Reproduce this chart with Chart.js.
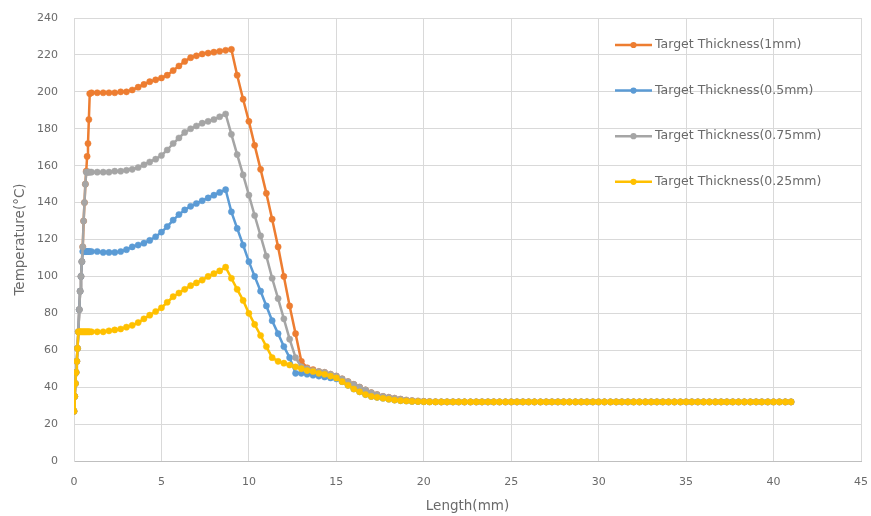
<!DOCTYPE html>
<html>
<head>
<meta charset="utf-8">
<script src="https://cdn.jsdelivr.net/npm/chart.js@4/dist/chart.umd.min.js"></script>
<style>
  html, body { margin: 0; padding: 0; background: #ffffff; }
  #wrap { width: 871px; height: 516px; }
</style>
</head>
<body>
<div id="wrap"><canvas id="chart" width="871" height="516"></canvas></div>
<script>
// Position along the target (mm)
const lengthMM = [
  0, 0.04, 0.08, 0.12, 0.16, 0.2, 0.25, 0.3, 0.35, 0.4, 0.45, 0.5, 0.55, 0.6, 0.65, 0.7, 0.75, 0.8, 0.85, 0.9,
  1, 1.33, 1.67, 2, 2.33, 2.67, 3, 3.33, 3.67, 4, 4.33, 4.67, 5, 5.33, 5.67,
  6, 6.33, 6.67, 7, 7.33, 7.67, 8, 8.33, 8.67, 9, 9.33, 9.67, 10, 10.33, 10.67,
  11, 11.33, 11.67, 12, 12.33, 12.67, 13, 13.33, 13.67, 14, 14.33, 14.67, 15, 15.33, 15.67,
  16, 16.33, 16.67, 17, 17.33, 17.67, 18, 18.33, 18.67, 19, 19.33, 19.67, 20, 20.33, 20.67,
  21, 21.33, 21.67, 22, 22.33, 22.67, 23, 23.33, 23.67, 24, 24.33, 24.67, 25, 25.33, 25.67,
  26, 26.33, 26.67, 27, 27.33, 27.67, 28, 28.33, 28.67, 29, 29.33, 29.67, 30, 30.33, 30.67,
  31, 31.33, 31.67, 32, 32.33, 32.67, 33, 33.33, 33.67, 34, 34.33, 34.67, 35, 35.33, 35.67,
  36, 36.33, 36.67, 37, 37.33, 37.67, 38, 38.33, 38.67, 39, 39.33, 39.67, 40, 40.33, 40.67,
  41
];

// Temperature (°C) for each target thickness
const temp1mm = [
  27, 35, 42, 48, 54, 61, 70, 82, 92, 100, 108, 116, 130, 140, 150, 157, 165, 172, 185, 199,
  199.5, 199.5, 199.5, 199.5, 199.5, 200, 200, 201, 202.5, 204, 205.5, 206.5, 207.5, 209, 211.5,
  214, 216.5, 218.5, 219.5, 220.5, 221, 221.5, 222, 222.5, 223, 209, 196, 184, 171, 158,
  145, 131, 116, 100, 84, 69, 54, 50.5, 49.5, 48.5, 48, 47, 46, 44.5, 43,
  41.5, 40, 38.5, 37, 36, 35, 34.5, 34, 33.5, 33, 32.7, 32.5, 32.3, 32.2, 32.1,
  32, 32, 32, 32, 32, 32, 32, 32, 32, 32, 32, 32, 32, 32, 32,
  32, 32, 32, 32, 32, 32, 32, 32, 32, 32, 32, 32, 32, 32, 32,
  32, 32, 32, 32, 32, 32, 32, 32, 32, 32, 32, 32, 32, 32, 32,
  32, 32, 32, 32, 32, 32, 32, 32, 32, 32, 32, 32, 32, 32, 32,
  32
];

const temp05mm = [
  27, 35, 42, 48, 54, 61, 70, 82, 92, 100, 108, 113.5, 113.5, 113.5, 113.5, 113.5, 113.5, 113.5, 113.5, 113.5,
  113.5, 113.5, 113, 113, 113, 113.5, 114.5, 116, 117, 118, 119.5, 121.5, 124, 127, 130.5,
  133.5, 136, 138, 139.5, 141, 142.5, 144, 145.5, 147, 135, 126, 117, 108, 100, 92,
  84, 76, 69, 62, 56, 47.5, 47.5, 47, 46.5, 46, 45.5, 45, 44.5, 43, 41,
  39, 37.5, 36, 35, 34.5, 34, 33.5, 33, 32.7, 32.5, 32.3, 32.2, 32.1, 32, 32,
  32, 32, 32, 32, 32, 32, 32, 32, 32, 32, 32, 32, 32, 32, 32,
  32, 32, 32, 32, 32, 32, 32, 32, 32, 32, 32, 32, 32, 32, 32,
  32, 32, 32, 32, 32, 32, 32, 32, 32, 32, 32, 32, 32, 32, 32,
  32, 32, 32, 32, 32, 32, 32, 32, 32, 32, 32, 32, 32, 32, 32,
  32
];

const temp075mm = [
  27, 35, 42, 48, 54, 61, 70, 82, 92, 100, 108, 116, 130, 140, 150, 156.5, 156.5, 156.5, 156.5, 156.5,
  156.5, 156.5, 156.5, 156.5, 157, 157, 157.5, 158, 159, 160.5, 162, 163.5, 165.5, 168.5, 172,
  175, 178, 180, 181.5, 183, 184, 185, 186.5, 188, 177, 166, 155, 144, 133, 122,
  111, 99, 88, 77, 66, 56, 51, 50, 49, 48.5, 48, 47, 46, 44.5, 43,
  41.5, 40, 38.5, 37, 36, 35, 34.5, 34, 33.5, 33, 32.7, 32.5, 32.3, 32.2, 32.1,
  32, 32, 32, 32, 32, 32, 32, 32, 32, 32, 32, 32, 32, 32, 32,
  32, 32, 32, 32, 32, 32, 32, 32, 32, 32, 32, 32, 32, 32, 32,
  32, 32, 32, 32, 32, 32, 32, 32, 32, 32, 32, 32, 32, 32, 32,
  32, 32, 32, 32, 32, 32, 32, 32, 32, 32, 32, 32, 32, 32, 32,
  32
];

const temp025mm = [
  27, 35, 42, 48, 54, 61, 70, 70, 70, 70, 70, 70, 70, 70, 70, 70, 70, 70, 70, 70,
  70, 70, 70, 70.5, 71, 71.5, 72.5, 73.5, 75, 77, 79, 81, 83, 86, 89,
  91, 93, 95, 96.5, 98, 100, 101.5, 103, 105, 99, 93, 87, 80, 74, 68,
  62, 56, 54, 53, 52, 51, 50, 49, 48.5, 47.5, 47, 46, 45, 43, 41,
  39, 37.5, 36, 35, 34.5, 34, 33.5, 33, 32.7, 32.5, 32.3, 32.2, 32.1, 32, 32,
  32, 32, 32, 32, 32, 32, 32, 32, 32, 32, 32, 32, 32, 32, 32,
  32, 32, 32, 32, 32, 32, 32, 32, 32, 32, 32, 32, 32, 32, 32,
  32, 32, 32, 32, 32, 32, 32, 32, 32, 32, 32, 32, 32, 32, 32,
  32, 32, 32, 32, 32, 32, 32, 32, 32, 32, 32, 32, 32, 32, 32,
  32
];

const seriesNames = [
  'Target Thickness(1mm)',
  'Target Thickness(0.5mm)',
  'Target Thickness(0.75mm)',
  'Target Thickness(0.25mm)'
];
const seriesColors = ['#ED7D31', '#5B9BD5', '#A5A5A5', '#FFC000'];
const seriesValues = [temp1mm, temp05mm, temp075mm, temp025mm];

const xTickStep = 5, xMax = 45;
const yTickStep = 20, yMax = 240;

const textColor = '#6a6a6a';
const gridColor = '#D9D9D9';
const fontFamily = "'DejaVu Sans', 'Liberation Sans', Arial, sans-serif";

Chart.defaults.font.family = fontFamily;
Chart.defaults.color = textColor;

const datasets = seriesValues.map((vals, i) => ({
  label: seriesNames[i],
  data: lengthMM.map((x, k) => ({ x: x, y: vals[k] })),
  borderColor: seriesColors[i],
  backgroundColor: seriesColors[i],
  pointBackgroundColor: seriesColors[i],
  pointBorderColor: seriesColors[i],
  borderWidth: 2.5,
  pointRadius: 3.1,
  pointBorderWidth: 0.5,
  tension: 0,
  fill: false,
  // later series sit on top of earlier ones
  order: seriesValues.length - i
}));

// Legend drawn inside the plot, on the right, as a vertical list
const insideLegend = {
  id: 'insideLegend',
  afterDatasetsDraw(chart) {
    const ctx = chart.ctx;
    const x0 = 615, y0 = 45, gap = 45.6, lineLen = 37;
    ctx.save();
    ctx.font = '12.5px ' + fontFamily;
    ctx.textBaseline = 'middle';
    ctx.textAlign = 'left';
    seriesNames.forEach((name, i) => {
      const y = y0 + i * gap;
      ctx.strokeStyle = seriesColors[i];
      ctx.lineWidth = 2.5;
      ctx.beginPath();
      ctx.moveTo(x0, y);
      ctx.lineTo(x0 + lineLen, y);
      ctx.stroke();
      ctx.fillStyle = seriesColors[i];
      ctx.beginPath();
      ctx.arc(x0 + lineLen / 2, y, 3.1, 0, Math.PI * 2);
      ctx.fill();
      ctx.fillStyle = textColor;
      ctx.fillText(name, x0 + lineLen + 3, y);
    });
    ctx.restore();
  }
};

new Chart(document.getElementById('chart'), {
  type: 'line',
  data: { datasets: datasets },
  options: {
    responsive: false,
    animation: false,
    devicePixelRatio: 1,
    layout: { padding: { top: 18, right: 10, left: 0, bottom: 0 } },
    plugins: {
      legend: { display: false },
      tooltip: { enabled: false }
    },
    scales: {
      x: {
        type: 'linear',
        min: 0,
        max: xMax,
        ticks: { stepSize: xTickStep, padding: 15, color: textColor, font: { size: 11 } },
        grid: { color: gridColor, drawTicks: false },
        border: { color: '#BFBFBF' },
        title: {
          display: true,
          text: 'Length(mm)',
          color: textColor,
          font: { size: 13.5 },
          padding: { top: 2, bottom: 1 }
        },
        afterFit(scale) {
          scale.height = 55;
          scale.paddingLeft = 0;
          scale.paddingRight = 0;
        }
      },
      y: {
        min: 0,
        max: yMax,
        ticks: { stepSize: yTickStep, padding: 16, color: textColor, font: { size: 11 } },
        grid: { color: gridColor, drawTicks: false },
        border: { color: gridColor },
        title: {
          display: true,
          text: 'Temperature(°C)',
          color: textColor,
          font: { size: 13.5 },
          padding: { top: 12, bottom: 2 }
        },
        afterFit(scale) {
          scale.width = 74;
          scale.paddingTop = 0;
          scale.paddingBottom = 0;
        }
      }
    }
  },
  plugins: [insideLegend]
});
</script>
</body>
</html>
